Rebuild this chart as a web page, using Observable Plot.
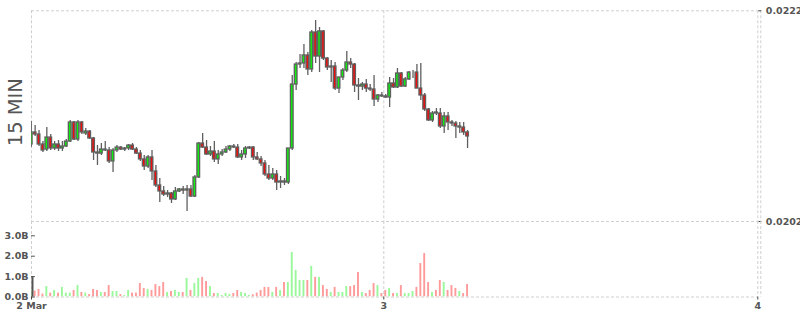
<!DOCTYPE html>
<html>
<head>
<meta charset="utf-8">
<script src="https://cdn.jsdelivr.net/npm/d3@7"></script>
<script src="https://cdn.jsdelivr.net/npm/@observablehq/plot@0.6"></script>
<style>
  html, body { margin: 0; padding: 0; background: #fff; }
  #chart { position: relative; width: 800px; height: 315px; overflow: hidden; }
  #chart svg { position: absolute; left: 0; top: 0; background: transparent; }
</style>
</head>
<body>
<div id="chart"></div>
<script>
// 15-minute candles, first candle starts 2 Mar 01:15 (UTC)
const firstCandleStart = "2020-03-02T01:15:00Z";
const opens = [
0.020931,0.021045,0.021026,0.020931,0.020883,0.020997,0.020893,0.020931,0.020893,0.020912,
0.020959,0.021140,0.020978,0.021140,0.021035,0.021054,0.020988,0.020855,0.020845,0.020883,
0.020874,0.020770,0.020874,0.020902,0.020883,0.020893,0.020921,0.020883,0.020845,0.020789,
0.020722,0.020808,0.020675,0.020542,0.020485,0.020456,0.020466,0.020409,0.020485,0.020504,
0.020494,0.020504,0.020437,0.020618,0.020940,0.020902,0.020836,0.020864,0.020789,0.020836,
0.020855,0.020883,0.020912,0.020902,0.020808,0.020836,0.020893,0.020902,0.020808,0.020789,
0.020751,0.020646,0.020608,0.020646,0.020570,0.020580,0.020570,0.020893,0.021500,0.021690,
0.021700,0.021776,0.021643,0.021994,0.021766,0.022004,0.021747,0.021662,0.021671,0.021462,
0.021567,0.021633,0.021709,0.021690,0.021491,0.021481,0.021500,0.021462,0.021453,0.021358,
0.021396,0.021387,0.021377,0.021510,0.021472,0.021605,0.021481,0.021548,0.021614,0.021614,
0.021462,0.021396,0.021263,0.021159,0.021235,0.021225,0.021102,0.021197,0.021140,0.021130,
0.021092,0.021092,0.021045
];
const highs = [
0.021149,0.021111,0.021064,0.020959,0.021092,0.021026,0.020959,0.020969,0.020959,0.020978,
0.021159,0.021149,0.021159,0.021149,0.021083,0.021064,0.020997,0.020921,0.020940,0.020959,
0.020902,0.020893,0.020921,0.020912,0.020902,0.020931,0.020940,0.020902,0.020874,0.020827,
0.020827,0.020874,0.020732,0.020608,0.020532,0.020494,0.020475,0.020523,0.020513,0.020532,
0.020542,0.020542,0.020637,0.020950,0.021035,0.020969,0.020912,0.020959,0.020874,0.020883,
0.020912,0.020921,0.020931,0.020931,0.020874,0.020912,0.020912,0.020912,0.020855,0.020817,
0.020779,0.020732,0.020703,0.020684,0.020627,0.020608,0.020722,0.021586,0.021709,0.021785,
0.021880,0.021804,0.022013,0.022108,0.022042,0.022013,0.021757,0.021728,0.021709,0.021557,
0.021652,0.021814,0.021747,0.021700,0.021557,0.021519,0.021548,0.021500,0.021586,0.021406,
0.021425,0.021406,0.021567,0.021557,0.021652,0.021614,0.021567,0.021624,0.021633,0.021690,
0.021700,0.021415,0.021273,0.021244,0.021273,0.021273,0.021235,0.021235,0.021159,0.021149,
0.021140,0.021140,0.021064
];
const lows = [
0.020902,0.021007,0.020912,0.020855,0.020864,0.020874,0.020874,0.020864,0.020864,0.020902,
0.020950,0.020969,0.020959,0.021026,0.021016,0.020978,0.020779,0.020732,0.020827,0.020864,
0.020751,0.020665,0.020855,0.020874,0.020864,0.020874,0.020874,0.020836,0.020770,0.020684,
0.020703,0.020589,0.020523,0.020380,0.020437,0.020428,0.020371,0.020399,0.020475,0.020456,
0.020295,0.020428,0.020428,0.020608,0.020893,0.020827,0.020817,0.020760,0.020741,0.020817,
0.020845,0.020864,0.020893,0.020798,0.020779,0.020798,0.020883,0.020779,0.020779,0.020722,
0.020627,0.020589,0.020589,0.020494,0.020513,0.020542,0.020551,0.020874,0.021444,0.021652,
0.021652,0.021586,0.021614,0.021700,0.021614,0.021728,0.021633,0.021519,0.021444,0.021415,
0.021538,0.021614,0.021652,0.021425,0.021349,0.021444,0.021425,0.021434,0.021292,0.021330,
0.021377,0.021368,0.021282,0.021462,0.021462,0.021472,0.021472,0.021538,0.021557,0.021462,
0.021349,0.021244,0.021149,0.021140,0.021206,0.021083,0.021035,0.021064,0.021102,0.020988,
0.021035,0.021016,0.020893
];
const closes = [
0.021045,0.021026,0.020931,0.020874,0.020997,0.020893,0.020931,0.020893,0.020912,0.020959,
0.021140,0.020978,0.021140,0.021045,0.021054,0.020988,0.020855,0.020845,0.020883,0.020874,
0.020770,0.020874,0.020902,0.020883,0.020893,0.020921,0.020883,0.020845,0.020789,0.020722,
0.020808,0.020675,0.020542,0.020485,0.020456,0.020466,0.020409,0.020485,0.020504,0.020494,
0.020504,0.020437,0.020618,0.020940,0.020902,0.020836,0.020864,0.020789,0.020836,0.020855,
0.020883,0.020912,0.020902,0.020808,0.020836,0.020893,0.020902,0.020808,0.020789,0.020751,
0.020646,0.020608,0.020646,0.020570,0.020580,0.020570,0.020893,0.021500,0.021690,0.021700,
0.021776,0.021643,0.021994,0.021766,0.022004,0.021747,0.021662,0.021671,0.021462,0.021567,
0.021633,0.021709,0.021690,0.021491,0.021481,0.021500,0.021462,0.021453,0.021358,0.021396,
0.021387,0.021377,0.021510,0.021472,0.021605,0.021481,0.021548,0.021614,0.021614,0.021462,
0.021396,0.021263,0.021159,0.021225,0.021225,0.021102,0.021197,0.021140,0.021130,0.021102,
0.021102,0.021045,0.021007
];
// volume in billions
const volumes = [
0.30,
0.29,0.37,0.14,0.51,0.19,0.32,0.19,0.47,0.19,0.19,
0.32,0.56,0.22,0.19,0.12,0.37,0.32,0.22,0.22,0.56,
0.27,0.27,0.12,0.07,0.32,0.19,0.19,0.66,0.42,0.37,
0.32,0.61,0.51,0.71,0.22,0.27,0.32,0.22,0.22,0.91,
0.32,0.66,0.91,0.96,0.76,0.51,0.17,0.17,0.07,0.17,
0.12,0.17,0.32,0.22,0.17,0.07,
0.11,0.19,0.32,0.47,0.47,0.22,0.47,0.32,0.71,0.71,
2.18,1.30,0.81,0.81,0.81,1.50,0.96,0.96,0.56,0.37,
0.22,0.47,0.22,0.22,0.51,0.51,0.56,1.20,0.22,0.17,
0.32,0.66,0.56,0.17,0.32,0.42,0.17,0.17,0.56,0.17,
0.17,0.27,0.47,1.64,2.13,0.71,0.22,0.32,0.81,0.71,
0.32,0.56,0.42,0.27,0.17,0.61
];
const priceTicks = [0.0202, 0.0222];
const volumeTicks = [0, 1, 2, 3];
const xTickDates = ["2020-03-02T01:23:30Z", "2020-03-03T00:00:00Z", "2020-03-04T00:00:00Z"];
const xTickLabels = ["2 Mar", "3", "4"];
const paneLabel = "15 MIN";

const MIN15 = 15 * 60 * 1000;
const t0 = new Date(firstCandleStart).getTime();
const candles = opens.map((o, i) => ({
  t0: new Date(t0 + i * MIN15),
  t1: new Date(t0 + (i + 1) * MIN15),
  mid: new Date(t0 + i * MIN15 + MIN15 / 2),
  open: o, high: highs[i], low: lows[i], close: closes[i],
  volume: volumes[i],
  up: closes[i] >= o
}));
const xTicks = xTickDates.map(s => new Date(s));
const xLabel = new Map(xTicks.map((d, i) => [+d, xTickLabels[i]]));
const xDomain = [xTicks[0], xTicks[2]];
const xEdge = [xTicks[2]];
const firstTickEnd = new Date(+xTicks[0] + MIN15);

const W = 800, H = 315;
const common = {
  width: W, height: H,
  marginLeft: 31, marginRight: 42.7,
  style: {fontFamily: "DejaVu Sans, sans-serif", color: "#555", background: "transparent", overflow: "visible"}
};
const grid = {stroke: "#cfcfcf", strokeDasharray: "3,2", strokeWidth: 1};

const main = Plot.plot({
  ...common,
  marginTop: 10.3, marginBottom: H - 221,
  x: {type: "utc", domain: xDomain, axis: null},
  y: {domain: [0.0202, 0.0222], axis: null},
  marks: [
    Plot.ruleY(priceTicks, grid),
    Plot.ruleX(xTicks, grid),
    Plot.ruleX(xEdge, {...grid, dx: 3}),
    Plot.axisY(priceTicks, {anchor: "right", label: null, tickSize: 3, tickPadding: 5, tickFormat: d => d.toFixed(4),
      fontSize: 9.5, fontWeight: "bold", fill: "#555", stroke: "#444"}),
    Plot.ruleX(candles, {x: "mid", y1: "low", y2: "high", stroke: "#5f5f5f", strokeWidth: 1.3, clip: true}),
    Plot.rect(candles, {x1: "t0", x2: "t1", y1: "open", y2: "close",
      fill: d => d.up ? "#0ef00e" : "#f00e0e", stroke: "#5f5f5f", strokeWidth: 1.3,
      insetLeft: 0.6, insetRight: 0.6, clip: true}),
    Plot.text([paneLabel], {frameAnchor: "left", text: d => d, rotate: -90, dx: -16, dy: -4,
      textAnchor: "middle", fontSize: 19.5, fill: "#555"})
  ]
});

const vol = Plot.plot({
  ...common,
  marginTop: 221, marginBottom: H - 296.5,
  x: {type: "utc", domain: xDomain, axis: null},
  y: {domain: [0, 3.7], axis: null},
  marks: [
    Plot.ruleY([0], grid),
    Plot.ruleX(xTicks, grid),
    Plot.ruleX(xEdge, {...grid, dx: 3}),
    Plot.rectY(candles, {x1: "t0", x2: "t1", y: "volume",
      fill: d => d.up ? "#99f899" : "#ff9a9a", insetLeft: 1, insetRight: 1, clip: true}),
    Plot.axisY(volumeTicks, {anchor: "left", label: null, tickSize: 0, tickPadding: 3, tickFormat: d => d.toFixed(1) + "B",
      fontSize: 9.5, fontWeight: "bold", fill: "#555"}),
    Plot.ruleY(volumeTicks, {x1: () => xTicks[0], x2: () => firstTickEnd, stroke: "#555", strokeWidth: 1}),
    Plot.ruleX([xTicks[0]], {y1: 0, y2: 1, stroke: "#555", strokeWidth: 2, dx: 1}),
    Plot.axisX(xTicks, {anchor: "bottom", label: null, tickSize: 3, tickPadding: 2, tickFormat: d => xLabel.get(+d),
      fontSize: 9.5, fontWeight: "bold", fill: "#555", stroke: "#444"})
  ]
});

const root = document.getElementById("chart");
root.appendChild(main);
root.appendChild(vol);
</script>
</body>
</html>
